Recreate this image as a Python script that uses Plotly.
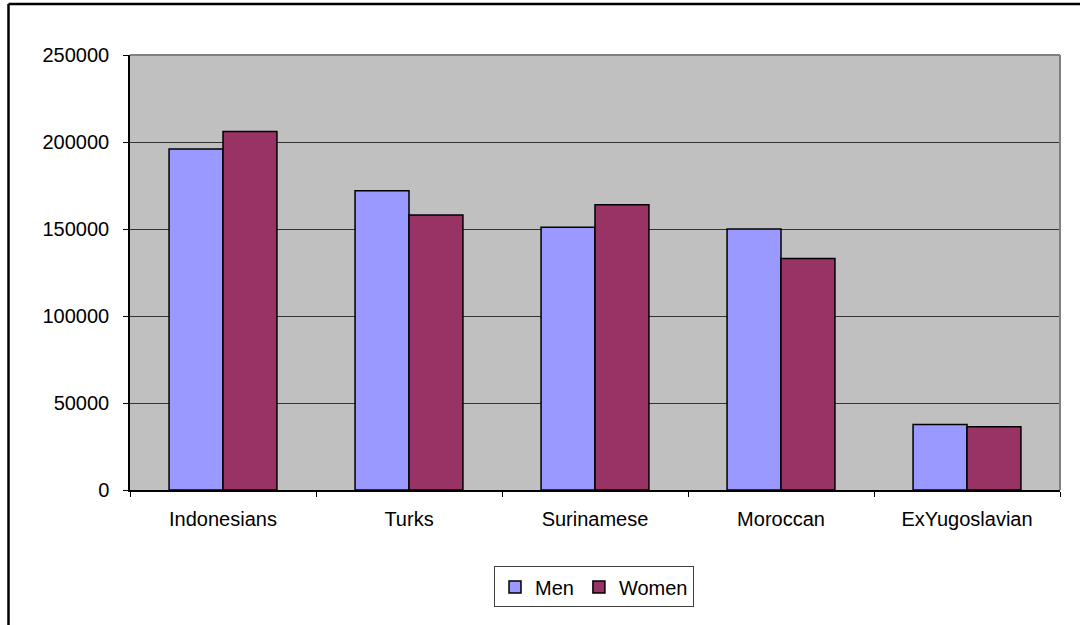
import plotly.graph_objects as go

categories = ["Indonesians", "Turks", "Surinamese", "Moroccan", "ExYugoslavian"]
men = [196000, 172000, 151000, 150000, 37600]
women = [206000, 158000, 164000, 133000, 36300]
y_ticks = [0, 50000, 100000, 150000, 200000, 250000]

W, H = 1080, 625
L, R, T, B = 130, 1060, 55, 490.5

def px(x):
    return (x - L) / (R - L)

def py(y):
    return (B - y) / (B - T)

FONT = "Liberation Sans, Arial, sans-serif"

fig = go.Figure()
fig.add_trace(go.Bar(name="Men", x=categories, y=men,
                     marker=dict(color="#9999FF", line=dict(color="black", width=1.5))))
fig.add_trace(go.Bar(name="Women", x=categories, y=women,
                     marker=dict(color="#993366", line=dict(color="black", width=1.5))))

fig.update_layout(
    width=W, height=H,
    margin=dict(l=L, r=W - R, t=T, b=H - B, pad=0),
    paper_bgcolor="white",
    plot_bgcolor="#C0C0C0",
    barmode="group",
    bargap=0.42,
    bargroupgap=0,
    font=dict(family=FONT, size=20, color="black"),
    showlegend=True,
    legend=dict(orientation="h", x=px(594), xanchor="center", y=py(567), yanchor="top",
                bordercolor="#404040", borderwidth=1, bgcolor="white",
                font=dict(size=20), traceorder="normal", itemwidth=30),
    xaxis=dict(type="category", tickson="boundaries", ticks="outside", ticklen=5,
               tickcolor="black", showline=True, linecolor="black", linewidth=1.5,
               showgrid=False, ticklabelstandoff=10, fixedrange=True),
    yaxis=dict(range=[0, 250000], tickvals=y_ticks, ticktext=[str(v) for v in y_ticks],
               ticks="outside", ticklen=5, tickcolor="black", showline=True,
               linecolor="black", linewidth=1.5, showgrid=True, gridcolor="#333333",
               gridwidth=1, zeroline=False, ticklabelstandoff=10, fixedrange=True),
    shapes=[
        dict(type="line", xref="paper", yref="paper", x0=0, x1=1, y0=1, y1=1,
             line=dict(color="#808080", width=2)),
        dict(type="line", xref="paper", yref="paper", x0=1, x1=1, y0=0, y1=1,
             line=dict(color="#808080", width=2)),
        dict(type="line", xref="paper", yref="paper", x0=px(8.5), x1=px(8.5),
             y0=py(700), y1=py(4), line=dict(color="black", width=2.5)),
        dict(type="line", xref="paper", yref="paper", x0=px(8.5), x1=px(1100),
             y0=py(4), y1=py(4), line=dict(color="black", width=2.5)),
    ],
)

fig.write_html("out.html", config={"displayModeBar": False},
               post_script="document.body.style.margin='0';")
